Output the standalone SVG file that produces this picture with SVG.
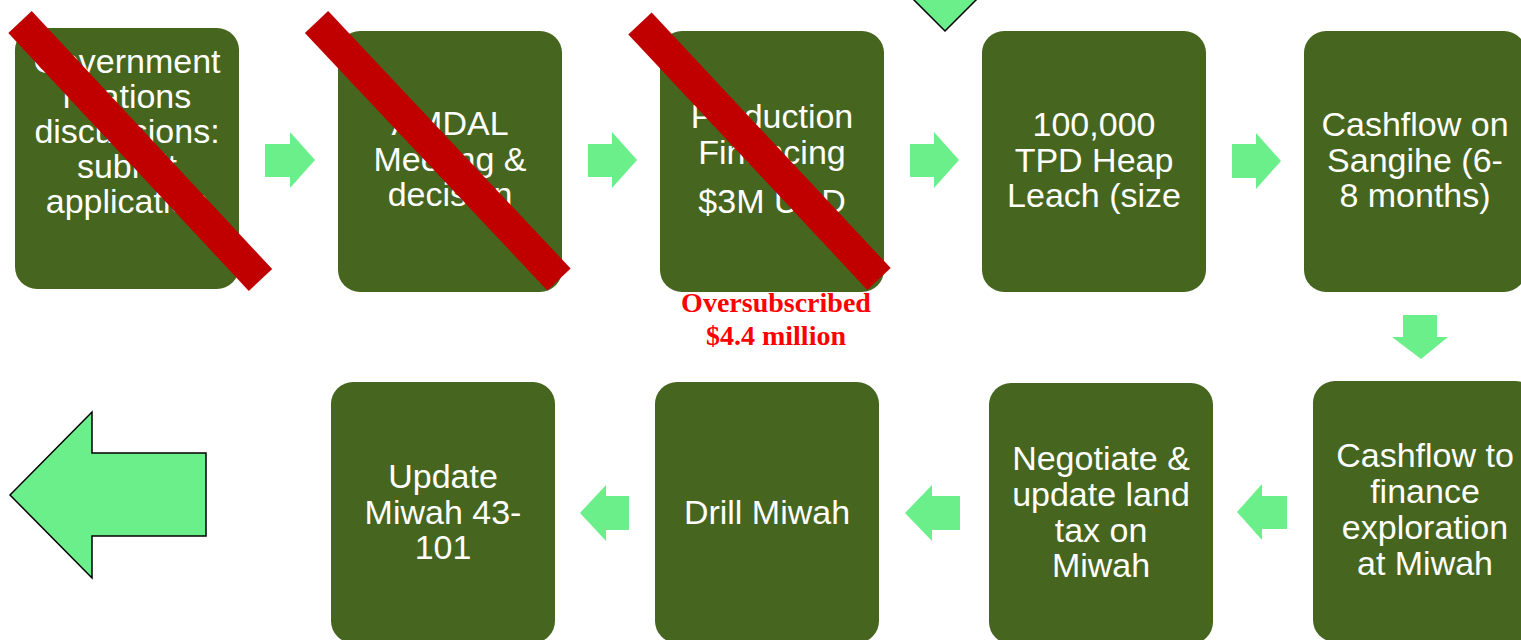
<svg xmlns="http://www.w3.org/2000/svg" width="1521" height="640" viewBox="0 0 1521 640">
<style>
.box{fill:#46651e;}
.t{font-family:"Liberation Sans",Arial,sans-serif;font-size:34px;fill:#ffffff;text-anchor:middle;}
.arr{fill:#6bef8b;}
.big{fill:#6bef8b;stroke:#000000;stroke-width:1.5;stroke-linejoin:miter;}
.x{stroke:#c00000;stroke-width:32;stroke-linecap:butt;}
.note{font-family:"Liberation Serif","Times New Roman",serif;font-size:28px;font-weight:bold;fill:#ff0000;text-anchor:middle;}
</style>
<rect width="1521" height="640" fill="#ffffff"/>
<g id="connectors">
<polygon class="arr" points="265,144 290,144 290,132 315,160 290,188 290,177 265,177"/>
<polygon class="arr" points="588,144 612,144 612,132 637,160 612,188 612,177 588,177"/>
<polygon class="arr" points="910,144 934,144 934,132 959,160 934,188 934,177 910,177"/>
<polygon class="arr" points="1232,144 1256,144 1256,133 1281,161 1256,189 1256,178 1232,178"/>
<polygon class="arr" points="1403,315 1437,315 1437,337 1448,337 1421,359 1392,337 1403,337"/>
<polygon class="arr" points="1287,496 1262,496 1262,484 1237,512 1262,540 1262,529 1287,529"/>
<polygon class="arr" points="960,496 932,496 932,485 905,513 932,541 932,530 960,530"/>
<polygon class="arr" points="629,496 606,496 606,485 580,513 606,541 606,530 629,530"/>
<polygon class="big" points="945,31 1027,-51 987,-51 987,-200 903,-200 903,-51 863,-51"/>
<polygon class="big" points="10,495 92,412 92,453 206,453 206,536 92,536 92,578"/>
</g>
<g id="n1">
<rect class="box" x="15" y="28" width="224" height="261" rx="22"/>
<text class="t" x="127" y="73">Government</text>
<text class="t" x="127" y="108">relations</text>
<text class="t" x="127" y="143">discussions:</text>
<text class="t" x="127" y="178">submit</text>
<text class="t" x="127" y="213">application</text>
</g>
<g id="n2">
<rect class="box" x="338" y="31" width="224" height="261" rx="22"/>
<text class="t" x="450" y="135">AMDAL</text>
<text class="t" x="450" y="171">Meeting &amp;</text>
<text class="t" x="450" y="206">decision</text>
</g>
<g id="n3">
<rect class="box" x="660" y="31" width="224" height="261" rx="22"/>
<text class="t" x="772" y="128">Production</text>
<text class="t" x="772" y="164">Financing</text>
<text class="t" x="772" y="213">$3M USD</text>
</g>
<g id="n4">
<rect class="box" x="982" y="31" width="224" height="261" rx="22"/>
<text class="t" x="1094" y="136">100,000</text>
<text class="t" x="1094" y="172">TPD Heap</text>
<text class="t" x="1094" y="207">Leach (size</text>
</g>
<g id="n5">
<rect class="box" x="1304" y="31" width="222" height="261" rx="22"/>
<text class="t" x="1415" y="136">Cashflow on</text>
<text class="t" x="1415" y="172">Sangihe (6-</text>
<text class="t" x="1415" y="207">8 months)</text>
</g>
<g id="n6">
<rect class="box" x="1313" y="381" width="224" height="261" rx="22"/>
<text class="t" x="1425" y="467">Cashflow to</text>
<text class="t" x="1425" y="503">finance</text>
<text class="t" x="1425" y="539">exploration</text>
<text class="t" x="1425" y="575">at Miwah</text>
</g>
<g id="n7">
<rect class="box" x="989" y="383" width="224" height="261" rx="22"/>
<text class="t" x="1101" y="470">Negotiate &amp;</text>
<text class="t" x="1101" y="506">update land</text>
<text class="t" x="1101" y="542">tax on</text>
<text class="t" x="1101" y="577">Miwah</text>
</g>
<g id="n8">
<rect class="box" x="655" y="382" width="224" height="261" rx="22"/>
<text class="t" x="767" y="524">Drill Miwah</text>
</g>
<g id="n9">
<rect class="box" x="331" y="382" width="224" height="261" rx="22"/>
<text class="t" x="443" y="488">Update</text>
<text class="t" x="443" y="524">Miwah 43-</text>
<text class="t" x="443" y="559">101</text>
</g>
<g id="crosses">
<line class="x" x1="20" y1="22" x2="260.5" y2="280"/>
<line class="x" x1="316.5" y1="22" x2="559" y2="279.5"/>
<line class="x" x1="640" y1="23.5" x2="879" y2="279"/>
</g>
<g id="note">
<text class="note" x="776" y="312">Oversubscribed</text>
<text class="note" x="776" y="345">$4.4 million</text>
</g>
</svg>
